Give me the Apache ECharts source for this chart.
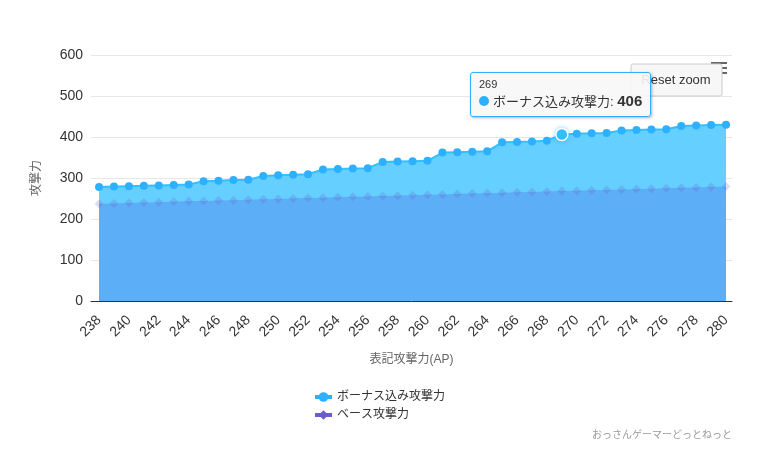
<!DOCTYPE html>
<html>
<head>
<meta charset="utf-8">
<script src="https://cdn.jsdelivr.net/npm/echarts@6/dist/echarts.min.js"></script>
<style>
  html, body { margin: 0; padding: 0; background: #fff; }
  #chart { width: 757px; height: 456px; }
</style>
</head>
<body>
<div id="chart"></div>
<script>
// 表記攻撃力(AP)
const apValues = [238, 239, 240, 241, 242, 243, 244, 245, 246, 247, 248, 249, 250, 251, 252,
  253, 254, 255, 256, 257, 258, 259, 260, 261, 262, 263, 264, 265, 266, 267, 268,
  269, 270, 271, 272, 273, 274, 275, 276, 277, 278, 279, 280];
// ボーナス込み攻撃力
const bonusAttack = [278, 279, 280, 281, 282, 283, 284, 292, 293, 295, 296, 305, 307, 308, 309,
  321, 322, 323, 324, 339, 340, 341, 342, 362, 363, 364, 365, 387, 388, 389, 391,
  406, 408, 409, 410, 416, 417, 418, 419, 427, 428, 429, 430];
// ベース攻撃力
const baseAttack = [237, 238, 239, 240, 241, 242, 243, 244, 245, 246, 247, 248, 249, 250, 251,
  252, 253, 254, 255, 256, 257, 258, 259, 260, 261, 262, 263, 264, 265, 266, 267,
  268, 269, 270, 271, 272, 273, 274, 275, 276, 277, 278, 279];
const xTickLabels = [238, 240, 242, 244, 246, 248, 250, 252, 254, 256, 258, 260,
  262, 264, 266, 268, 270, 272, 274, 276, 278, 280];
const yTicks = [0, 100, 200, 300, 400, 500, 600];

const FONT = "'Liberation Sans', 'Noto Sans CJK JP', sans-serif";
const tipIndex = apValues.indexOf(269);

const myChart = echarts.init(document.getElementById("chart"));

const option = {
  animation: false,
  textStyle: { fontFamily: FONT },
  grid: { left: 91, right: 25, top: 55, bottom: 155 },
  tooltip: {
    trigger: "item",
    triggerOn: "none",
    alwaysShowContent: true,
    backgroundColor: "rgba(247,247,247,0.9)",
    borderColor: "#2db0ff",
    borderWidth: 1,
    padding: [4, 8],
    extraCssText: "border-radius:3px;box-shadow:1px 1px 3px rgba(0,0,0,0.3);",
    position: [470, 72],
    formatter: function (p) {
      return '<div style="font-size:11px;color:#333;line-height:14px">' + p.value[0] + '</div>' +
        '<div style="font-size:13px;color:#333;line-height:20px">' +
        '<span style="display:inline-block;width:10px;height:10px;border-radius:5px;background:#2db0ff;margin-right:4px"></span>' +
        p.seriesName + ': <b style="font-size:15px">' + p.value[1] + '</b></div>';
    },
  },
  legend: {
    orient: "vertical",
    left: 308,
    top: 386,
    itemGap: 6,
    itemWidth: 17,
    itemHeight: 12,
    textStyle: { fontSize: 12, color: "#333", fontFamily: FONT },
    data: [
      { name: "ボーナス込み攻撃力", itemStyle: { color: "#2db0ff" }, lineStyle: { color: "#2db0ff", width: 4 } },
      { name: "ベース攻撃力", itemStyle: { color: "#6b5ccf" }, lineStyle: { color: "#6b5ccf", width: 4 } },
    ],
  },
  xAxis: {
    type: "value",
    min: 237.46,
    max: 280.4,
    name: "表記攻撃力(AP)",
    nameLocation: "middle",
    nameGap: 53,
    nameTextStyle: { color: "#666", fontSize: 12 },
    axisLine: { show: true, lineStyle: { color: "#333", width: 1 } },
    axisTick: { show: false },
    splitLine: { show: false },
    axisLabel: {
      customValues: xTickLabels,
      rotate: 45,
      margin: 17,
      color: "#333",
      fontSize: 14,
    },
  },
  yAxis: {
    type: "value",
    min: yTicks[0],
    max: yTicks[yTicks.length - 1],
    interval: 100,
    name: "攻撃力",
    nameLocation: "middle",
    nameRotate: 90,
    nameGap: 48,
    nameTextStyle: { color: "#666", fontSize: 12 },
    axisLine: { show: false },
    axisTick: { show: false },
    axisLabel: { color: "#333", fontSize: 14, margin: 8 },
    splitLine: { lineStyle: { color: "#e6e6e6" } },
  },
  series: [
    {
      name: "ボーナス込み攻撃力",
      type: "line",
      data: apValues.map((x, i) => [x, bonusAttack[i]]),
      symbol: "circle",
      symbolSize: 8,
      color: "#2db0ff",
      lineStyle: { width: 2, color: "#2db0ff" },
      areaStyle: { color: "#5cbdfc", opacity: 1 },
      itemStyle: { color: "#2db0ff" },
      emphasis: {
        scale: 1.5,
        itemStyle: { borderColor: "#fff", borderWidth: 1.5, shadowBlur: 4, shadowColor: "rgba(45,176,255,0.5)" },
      },
      z: 2,
    },
    {
      name: "ベース攻撃力",
      type: "line",
      data: apValues.map((x, i) => [x, baseAttack[i]]),
      symbol: "diamond",
      symbolSize: 9,
      color: "#6b5ccf",
      lineStyle: { width: 0, color: "#6b5ccf" },
      areaStyle: { color: "#5caef7", opacity: 1 },
      itemStyle: { color: "rgba(107,92,207,0.22)" },
      z: 3,
    },
  ],
  graphic: [
    {
      type: "rect",
      shape: { x: 631, y: 64, width: 91, height: 32, r: 2 },
      style: { fill: "#f7f7f7", stroke: "#cccccc", lineWidth: 1 },
      z: 10,
    },
    {
      type: "text",
      x: 676,
      y: 80,
      style: { text: "Reset zoom", fill: "#333", font: "13px " + FONT, align: "center", verticalAlign: "middle" },
      z: 11,
    },
    {
      type: "group",
      z: 12,
      children: [
        { type: "line", shape: { x1: 711, y1: 63, x2: 727, y2: 63 }, style: { stroke: "#666", lineWidth: 2 } },
        { type: "line", shape: { x1: 711, y1: 68, x2: 727, y2: 68 }, style: { stroke: "#666", lineWidth: 2 } },
        { type: "line", shape: { x1: 711, y1: 73, x2: 727, y2: 73 }, style: { stroke: "#666", lineWidth: 2 } },
      ],
    },
    {
      type: "text",
      right: 25,
      top: 430,
      style: { text: "おっさんゲーマーどっとねっと", fill: "#999", font: "10px " + FONT },
    },
  ],
};

myChart.setOption(option);
myChart.dispatchAction({ type: "highlight", seriesIndex: 0, dataIndex: tipIndex });
myChart.dispatchAction({ type: "showTip", seriesIndex: 0, dataIndex: tipIndex });
</script>
</body>
</html>
